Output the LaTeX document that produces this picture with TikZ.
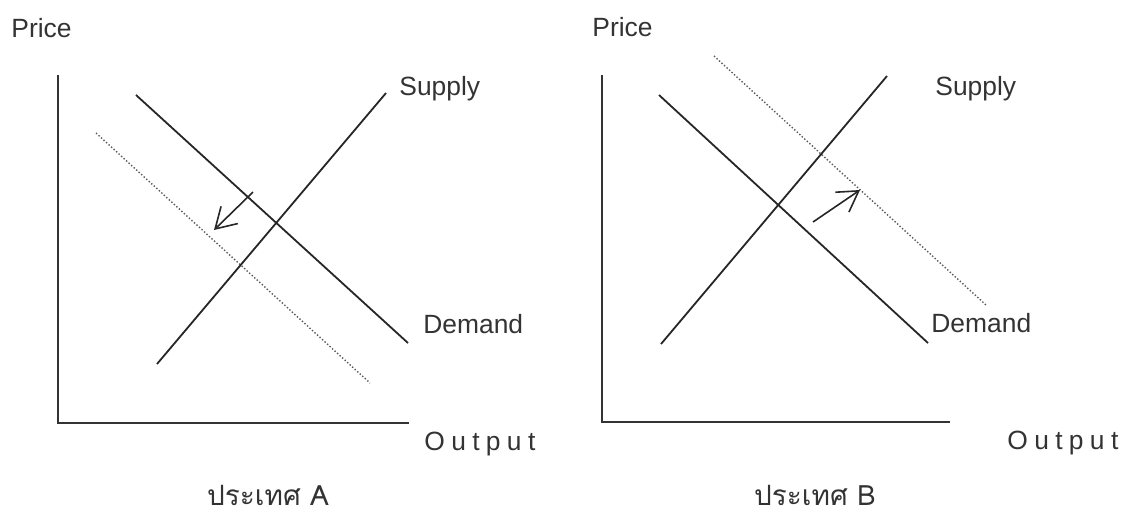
\documentclass[tikz,border=0pt]{standalone}
\usepackage{fontspec}
\setmainfont{Liberation Sans}
\newfontfamily\thaifont[Script=Thai]{Loma}
\usetikzlibrary{arrows.meta}
\tikzset{
  axe/.style={line width=1pt,draw=black!80},
  courbe/.style={line width=0.9pt,draw=black!85},
  decale/.style={line width=0.7pt,draw=black!65,densely dotted},
  fleche/.style={line width=0.8pt,draw=black!85,-{Straight Barb[length=10pt,width=12pt]}},
  etiq/.style={anchor=base west,inner sep=0pt,text=black!80,font=\fontsize{13.2}{15}\selectfont},
  sortie/.style={etiq,font=\fontsize{13.2}{15}\selectfont\addfontfeatures{LetterSpace=24}},
  pays/.style={anchor=base,inner sep=0pt,text=black!80,font=\fontsize{14}{16}\thaifont},
}
\begin{document}
\begin{tikzpicture}[x=0.5pt,y=-0.5pt]
\useasboundingbox (0,0) rectangle (1123,516);
%pays A
\coordinate (y1) at (58,75);
\coordinate (x1) at (409,423);
\coordinate (d1a) at (136,95);
\coordinate (d1b) at (408,343);
\coordinate (e1a) at (96,133);
\coordinate (e1b) at (370,383);
\coordinate (s1a) at (157,364);
\coordinate (s1b) at (386,93);
\coordinate (f1a) at (253,192);
\coordinate (f1b) at (214,230);
\draw[axe] (y1) |- (x1);
\draw[decale] (e1a) -- (e1b);%demande deplacee
\draw[courbe] (d1a) -- (d1b);
\draw[courbe] (s1a) -- (s1b);
\draw[fleche] (f1a) -- (f1b);
\node[etiq] (price1) at (11,37) {Price};
\node[etiq] (supply1) at (399,95) {Supply};
\node[etiq] (demand1) at (423,333) {Demand};
\node[sortie] (output1) at (424,450) {Output};
\node[pays] (titre1) at (268,505) {ประเทศ A};
%pays B
\coordinate (y2) at (602,75);
\coordinate (x2) at (950,422);
\coordinate (d2a) at (659,95);
\coordinate (d2b) at (928,343);
\coordinate (e2a) at (714,56);
\coordinate (e2b) at (986,305);
\coordinate (s2a) at (661,344);
\coordinate (s2b) at (887,76);
\coordinate (f2a) at (813,222);
\coordinate (f2b) at (860,190);
\draw[axe] (y2) |- (x2);
\draw[decale] (e2a) -- (e2b);%demande deplacee
\draw[courbe] (d2a) -- (d2b);
\draw[courbe] (s2a) -- (s2b);
\draw[fleche] (f2a) -- (f2b);
\node[etiq] (price2) at (592,36) {Price};
\node[etiq] (supply2) at (935,95) {Supply};
\node[etiq] (demand2) at (931,332) {Demand};
\node[sortie] (output2) at (1007,449) {Output};
\node[pays] (titre2) at (815,505) {ประเทศ B};
\end{tikzpicture}
\end{document}
